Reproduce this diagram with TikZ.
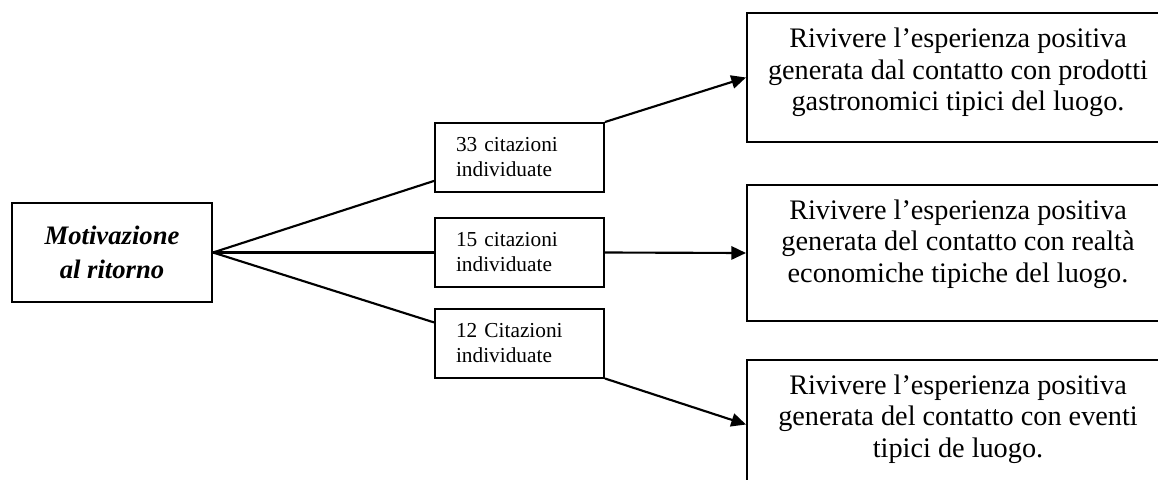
\documentclass[tikz,border=0pt]{standalone}
\usepackage{fontspec}
\setmainfont{Liberation Serif}
\usetikzlibrary{arrows.meta,calc}

\tikzset{
  mainbox/.style={draw, line width=1.5pt, minimum width=150pt, minimum height=74.25pt,
    align=center, font=\fontsize{20}{26}\selectfont\bfseries\itshape},
  countbox/.style={draw, line width=1.5pt, minimum width=126.75pt, minimum height=51.75pt,
    inner xsep=15.75pt, text width=95.25pt, align=left, font=\fontsize{16}{18.75}\selectfont},
  goalbox/.style={draw, line width=1.5pt, minimum width=316.5pt},
  goaltext/.style={align=center, font=\fontsize{21.2}{23.5}\selectfont},
  link/.style={line width=1.6pt},
  arrowlink/.style={link, -{Triangle[length=11pt,width=10pt]}}
}

\begin{document}
\begin{tikzpicture}[x=0.75pt, y=-0.75pt]
        % Page frame
        \path[use as bounding box, clip] (0,0) rectangle (1158,479);

        % Starting box
        \node[mainbox] (main) at (112,252.5) {Motivazione\\al ritorno};

        % Count boxes
        \node[countbox] (cntA) at (519.5,157.5) {33 citazioni\\individuate};
        \node[countbox] (cntB) at (519.5,252.5) {15 citazioni\\individuate};
        \node[countbox] (cntC) at (519.5,343) {12 Citazioni\\individuate};

        % Goal boxes
        \node[goalbox, minimum height=96.75pt] (goalA) at (958,77.5) {};
        \node[goalbox, minimum height=102pt] (goalB) at (958,253) {};
        \node[goalbox, minimum height=96.75pt] (goalC) at (958,424.5) {};

        % Goal texts
        \node[goaltext] (txtA) at (958,72.5) {Rivivere l’esperienza positiva\\generata dal contatto con prodotti\\gastronomici tipici del luogo.};
        \node[goaltext] (txtB) at (958,244) {Rivivere l’esperienza positiva\\generata del contatto con realtà\\economiche tipiche del luogo.};
        \node[goaltext] (txtC) at (958,419) {Rivivere l’esperienza positiva\\generata del contatto con eventi\\tipici de luogo.};

        % Lines to the count boxes
        \draw[link] (main.east) -- ($(cntA.north west)!0.83!(cntA.south west)$);
        \draw[link] (main.east) -- (cntB.west);
        \draw[link] (main.east) -- ($(cntC.north west)!0.21!(cntC.south west)$);

        % Arrows to the goal boxes
        \draw[arrowlink] (cntA.north east) -- (goalA.west);
        \draw[arrowlink] (cntB.east) -- (goalB.west);
        \draw[arrowlink] (cntC.south east) -- (goalC.west);
    \end{tikzpicture}
\end{document}
